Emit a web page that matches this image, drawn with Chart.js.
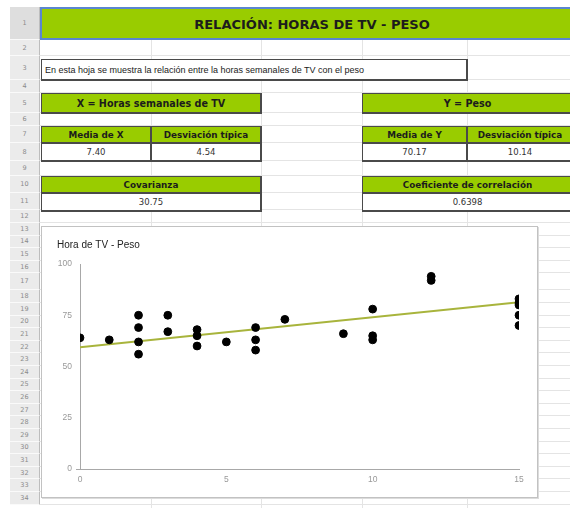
<!DOCTYPE html>
<html>
<head>
<meta charset="utf-8">
<script src="https://cdn.jsdelivr.net/npm/chart.js@4.4.1/dist/chart.umd.min.js"></script>
<style>
html, body { margin: 0; padding: 0; background: #fff; }
#sheet { position: relative; width: 570px; height: 508px; overflow: hidden; font-family: "DejaVu Sans", Verdana, sans-serif; }
.abs { position: absolute; box-sizing: border-box; }
.green { background: #99cc00; border: 1px solid #4a4a4a; border-right-width: 2px; border-bottom-width: 2px;
         display: flex; align-items: center; justify-content: center; font-weight: bold; font-size: 8.8px; color: #1c1c1c; white-space: nowrap; }
.big { font-size: 9.6px; }
.val { background: #fff; border: 1px solid #4a4a4a; border-top: none; border-right-width: 2px; border-bottom-width: 2px;
       display: flex; align-items: center; justify-content: center; font-size: 8.5px; color: #333; white-space: nowrap; }
.rownum { position: absolute; left: 10px; width: 30px; box-sizing: border-box; background: #ebebeb;
          border-bottom: 1px solid #fafafa; border-right: 1px solid #bdbdbd; font-size: 6.5px; color: #8a8a8a;
          display: flex; align-items: center; justify-content: center; }
.hline { position: absolute; left: 40px; width: 530px; height: 1px; background: #e4e4e4; }
.vline { position: absolute; width: 1px; background: #e4e4e4; }
</style>
</head>
<body>
<div id="sheet">
  <div class="abs" style="left:40px;top:7px;width:544px;height:33px;background:#99cc00;border:2px solid #5a86d0;border-right:none;"></div>
  <div class="abs" style="left:40px;top:8px;width:544px;height:33px;display:flex;align-items:center;justify-content:center;font-weight:bold;font-size:13px;color:#1c1c1c;">RELACIÓN: HORAS DE TV - PESO</div>

  <div class="abs" style="left:41px;top:59px;width:427px;height:22px;border:1px solid #4a4a4a;border-right-width:2px;border-bottom-width:2px;background:#fff;font-family:'Liberation Sans',Arial,sans-serif;font-size:9px;color:#222;padding-left:3px;display:flex;align-items:center;white-space:nowrap;">En esta hoja se muestra la relación entre la horas semanales de TV con el peso</div>

  <div class="abs green big" style="left:41px;top:93px;width:221px;height:21px;">X = Horas semanales de TV</div>
  <div class="abs green big" style="left:362px;top:93px;width:212px;height:21px;">Y = Peso</div>

  <div class="abs green" style="left:41px;top:126px;width:111px;height:18px;">Media de X</div>
  <div class="abs green" style="left:151px;top:126px;width:111px;height:18px;">Desviación típica</div>
  <div class="abs green" style="left:362px;top:126px;width:106px;height:18px;">Media de Y</div>
  <div class="abs green" style="left:467px;top:126px;width:107px;height:18px;">Desviación típica</div>

  <div class="abs val" id="mediaX" style="left:41px;top:144px;width:111px;height:18px;"></div>
  <div class="abs val" id="desvX" style="left:151px;top:144px;width:111px;height:18px;"></div>
  <div class="abs val" id="mediaY" style="left:362px;top:144px;width:106px;height:18px;"></div>
  <div class="abs val" id="desvY" style="left:467px;top:144px;width:107px;height:18px;"></div>

  <div class="abs green" style="left:41px;top:176px;width:221px;height:18px;">Covarianza</div>
  <div class="abs green" style="left:362px;top:176px;width:212px;height:18px;">Coeficiente de correlación</div>
  <div class="abs val" id="cov" style="left:41px;top:194px;width:221px;height:18px;"></div>
  <div class="abs val" id="corr" style="left:362px;top:194px;width:212px;height:18px;"></div>

  <div class="abs" style="left:41px;top:226px;width:497px;height:272px;border:1px solid #c2c2c2;box-shadow:1px 1px 0 #dcdcdc;background:#fff;"></div>
  <canvas id="chart" width="495" height="270" style="position:absolute;left:42px;top:227px;"></canvas>
</div>

<script>
// Worksheet summary values
const statLabels = ['mediaX', 'desvX', 'mediaY', 'desvY', 'cov', 'corr'];
const statValues = ['7.40', '4.54', '70.17', '10.14', '30.75', '0.6398'];

// Hours of TV per week and weight for each person
const horasTV = [0, 1, 2, 2, 2, 2, 3, 3, 4, 4, 4, 5, 6, 6, 6, 7, 9, 10, 10, 10, 12, 12, 15, 15, 15, 15, 15];
const peso    = [64, 63, 75, 69, 62, 56, 75, 67, 68, 65, 60, 62, 69, 63, 58, 73, 66, 78, 65, 63, 94, 92, 83, 81, 80, 75, 70];

// Linear trend line end points
const trendX = [0, 15];
const trendY = [59.4, 81.4];

// Axis tick values
const xTicks = [0, 5, 10, 15];
const yTicks = [0, 25, 50, 75, 100];

statLabels.forEach((id, i) => { document.getElementById(id).textContent = statValues[i]; });

// Spreadsheet row grid
const rowHeights = [33, 16, 24, 13, 20, 13, 17, 18, 15, 17, 17, 13,
  12.6, 12.6, 12.6, 12.6, 17, 12.6, 12.6, 12.6, 12.6, 12.6, 12.6, 12.6, 12.6,
  12.6, 12.6, 12.6, 12.6, 12.6, 12.6, 12.6, 12.6, 12.6];
const sheet = document.getElementById('sheet');
const firstChild = sheet.firstChild;
let y = 7;
rowHeights.forEach((h, i) => {
  const rn = document.createElement('div');
  rn.className = 'rownum';
  rn.style.top = y + 'px';
  rn.style.height = h + 'px';
  if (i === 0) rn.style.background = '#dedede';
  rn.textContent = String(i + 1);
  sheet.insertBefore(rn, firstChild);
  const hl = document.createElement('div');
  hl.className = 'hline';
  hl.style.top = (y + h - 1) + 'px';
  sheet.insertBefore(hl, firstChild);
  y += h;
});
[151, 261, 362, 467].forEach(x => {
  const vl = document.createElement('div');
  vl.className = 'vline';
  vl.style.left = x + 'px';
  vl.style.top = '40px';
  vl.style.height = '470px';
  sheet.insertBefore(vl, firstChild);
});

const points = horasTV.map((x, i) => ({ x: x, y: peso[i] }));
const trend = trendX.map((x, i) => ({ x: x, y: trendY[i] }));
const tickFont = { family: "'Liberation Sans', Arial, sans-serif", size: 8.5 };

new Chart(document.getElementById('chart'), {
  type: 'scatter',
  data: {
    datasets: [
      {
        label: 'Peso',
        data: points,
        backgroundColor: '#000',
        borderColor: '#000',
        pointRadius: 3.9,
        pointHoverRadius: 3.9
      },
      {
        label: 'Tendencia',
        data: trend,
        showLine: true,
        borderColor: '#a8b43c',
        borderWidth: 2,
        pointRadius: 0,
        fill: false
      }
    ]
  },
  options: {
    responsive: false,
    animation: false,
    devicePixelRatio: 1,
    layout: { padding: { left: 15, right: 18, top: 0, bottom: 0 } },
    plugins: {
      legend: { display: false },
      tooltip: { enabled: false },
      title: {
        display: true,
        text: 'Hora de TV - Peso',
        align: 'start',
        color: '#222',
        font: { family: "'Liberation Sans', Arial, sans-serif", size: 10, weight: 'normal', lineHeight: 1.2 },
        padding: { top: 12, bottom: 13 }
      }
    },
    scales: {
      x: {
        type: 'linear',
        min: 0,
        max: 15,
        afterBuildTicks: s => { s.ticks = xTicks.map(v => ({ value: v })); },
        afterFit: s => { s.height = 28; },
        grid: { display: false, drawTicks: false },
        border: { display: true, color: '#a8a8a8', width: 1 },
        ticks: { color: '#999', padding: 6, font: tickFont }
      },
      y: {
        type: 'linear',
        min: 0,
        max: 100,
        afterBuildTicks: s => { s.ticks = yTicks.map(v => ({ value: v })); },
        afterFit: s => { s.width = 23; },
        // short tick only at zero, continuing the x axis line to the left
        grid: {
          display: true,
          drawOnChartArea: false,
          drawTicks: true,
          tickLength: 4,
          tickColor: ctx => (ctx.tick && ctx.tick.value === 0 ? '#a8a8a8' : 'rgba(0,0,0,0)')
        },
        border: { display: true, color: '#a8a8a8', width: 1 },
        ticks: { color: '#999', padding: 4, font: tickFont }
      }
    }
  }
});
</script>
</body>
</html>
